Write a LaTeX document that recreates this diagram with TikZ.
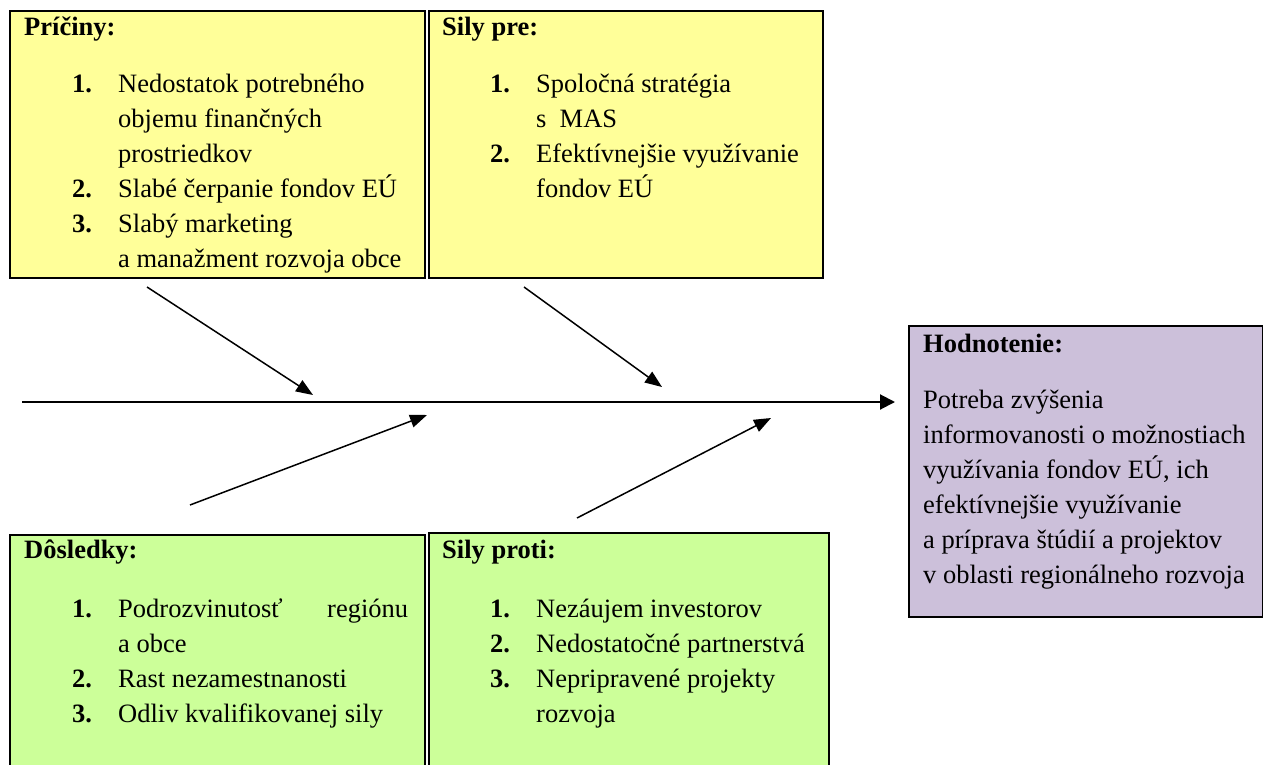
\documentclass[tikz,border=0pt]{standalone}
\usepackage{fontspec}
\setmainfont{Liberation Serif}
\usetikzlibrary{arrows.meta,positioning}

\definecolor{causeyellow}{RGB}{255,255,153}
\definecolor{effectgreen}{RGB}{204,255,153}
\definecolor{evallilac}{RGB}{204,192,218}

\tikzset{
    box/.style={draw, line width=2pt, anchor=north west, inner sep=0pt},
    boxtext/.style={anchor=north west, inner sep=0pt, align=left,
        font=\fontsize{26.5}{35}\selectfont},
    bone/.style={line width=1.5pt, -{Triangle[length=17pt,width=13pt]}},
    spine/.style={line width=2pt, -{Triangle[length=15pt,width=15pt]}},
}

% numbered lines of the lists
\newcommand{\itemno}[1]{\hspace*{48pt}\makebox[46pt][l]{\textbf{#1}}}
\newcommand{\itemcont}{\hspace*{94pt}}

\begin{document}
\begin{tikzpicture}[x=1pt,y=-1pt]
\useasboundingbox (0,0) rectangle (1263,765);
\clip (0,0) rectangle (1263,765);
\begin{scope}
    % Define boxes
    \node[box, fill=causeyellow, minimum width=415pt, minimum height=267pt] (causes) at (9,10) {};
    \node[box, fill=causeyellow, minimum width=394pt, minimum height=267pt] (forpro) at (428,10) {};
    \node[box, fill=evallilac, minimum width=354pt, minimum height=291pt] (eval) at (908,325) {};
    \node[box, fill=effectgreen, minimum width=415pt, minimum height=260pt] (effects) at (9,534) {};
    \node[box, fill=effectgreen, minimum width=400pt, minimum height=260pt] (forcon) at (428,532) {};

    % Box texts
    \node[boxtext, below right=0.5pt and 15pt of causes.north west] (causes text) {%
        \strut\textbf{Príčiny:}\\[22pt]
        \itemno{1.}Nedostatok potrebného\\
        \itemcont objemu finančných\\
        \itemcont prostriedkov\\
        \itemno{2.}Slabé čerpanie fondov EÚ\\
        \itemno{3.}Slabý marketing\\
        \itemcont a manažment rozvoja obce};
    \node[boxtext, below right=0.5pt and 14pt of forpro.north west] (forpro text) {%
        \strut\textbf{Sily pre:}\\[22pt]
        \itemno{1.}Spoločná stratégia\\
        \itemcont s~~MAS\\
        \itemno{2.}Efektívnejšie využívanie\\
        \itemcont fondov EÚ};
    \node[boxtext, below right=2.5pt and 15pt of eval.north west] (eval text) {%
        \strut\textbf{Hodnotenie:}\\[21pt]
        Potreba zvýšenia\\
        informovanosti o možnostiach\\
        využívania fondov EÚ, ich\\
        efektívnejšie využívanie\\
        a príprava štúdií a projektov\\
        v oblasti regionálneho rozvoja};
    \node[boxtext, below right=-0.5pt and 15pt of effects.north west] (effects text) {%
        \strut\textbf{Dôsledky:}\\[24pt]
        \itemno{1.}\makebox[290pt][l]{Podrozvinutosť\hfill regiónu}\\
        \itemcont a obce\\
        \itemno{2.}Rast nezamestnanosti\\
        \itemno{3.}Odliv kvalifikovanej sily};
    \node[boxtext, below right=1.5pt and 14pt of forcon.north west] (forcon text) {%
        \strut\textbf{Sily proti:}\\[24pt]
        \itemno{1.}Nezáujem investorov\\
        \itemno{2.}Nedostatočné partnerstvá\\
        \itemno{3.}Nepripravené projekty\\
        \itemcont rozvoja};

    % Spine and bones
    \coordinate (spine tail) at (22,402);
    \coordinate (spine head) at (895,402);
    \coordinate (causes tail) at (147,287);
    \coordinate (causes head) at (313,395);
    \coordinate (forpro tail) at (524,287);
    \coordinate (forpro head) at (662,387);
    \coordinate (effects tail) at (190,505);
    \coordinate (effects head) at (427,415);
    \coordinate (forcon tail) at (577,518);
    \coordinate (forcon head) at (771,418);

    \draw[spine] (spine tail) -- (spine head);
    \draw[bone] (causes tail) -- (causes head);
    \draw[bone] (forpro tail) -- (forpro head);
    \draw[bone] (effects tail) -- (effects head);
    \draw[bone] (forcon tail) -- (forcon head);
\end{scope}
\end{tikzpicture}
\end{document}
